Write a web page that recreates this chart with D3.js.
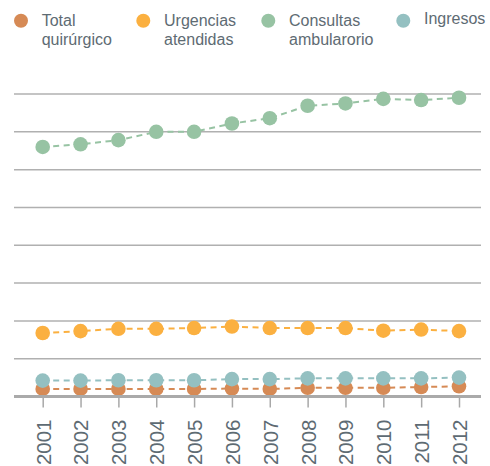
<!DOCTYPE html>
<html><head><meta charset="utf-8">
<script src="https://cdn.jsdelivr.net/npm/d3@7"></script>
<style>body{margin:0;background:#fff;} svg{display:block;}</style>
</head><body>
<svg id="c" width="490" height="466"></svg>
<script>
const years = ["2001","2002","2003","2004","2005","2006","2007","2008","2009","2010","2011","2012"];
const totalQuirurgico = [0.20,0.20,0.20,0.20,0.20,0.21,0.20,0.23,0.23,0.23,0.25,0.27];
const urgencias = [1.68,1.73,1.79,1.79,1.81,1.85,1.81,1.81,1.81,1.74,1.77,1.73];
const consultas = [6.60,6.67,6.78,7.00,7.00,7.22,7.36,7.69,7.75,7.87,7.84,7.90];
const ingresos = [0.42,0.42,0.43,0.43,0.43,0.46,0.46,0.48,0.48,0.48,0.48,0.50];
const gridTicks = [0,1,2,3,4,5,6,7,8];
const seriesNames = [["Total","quirúrgico"],["Urgencias","atendidas"],["Consultas","ambularorio"],["Ingresos"]];
const colors = ["#d68a55","#fbb040","#97c3a3","#94c0c1"];

const svg = d3.select("#c");
const x = d3.scalePoint().domain(years).range([42.7, 459]);
const y = d3.scaleLinear().domain([0, 8]).range([396.5, 94]);
const xL = 14, xR = 481;

// gridlines
svg.append("g").selectAll("line").data(gridTicks.filter(d=>d>0)).join("line")
  .attr("x1", xL).attr("x2", xR).attr("y1", d=>y(d)).attr("y2", d=>y(d))
  .attr("stroke", "#b0b0b0").attr("stroke-width", 1.5);

// x axis
const xa = svg.append("g").attr("transform", `translate(0,${y(0)})`)
  .call(d3.axisBottom(x).tickSize(11).tickSizeOuter(0));
xa.select(".domain").remove();
xa.selectAll(".tick line").attr("stroke", "#a8a8a8").attr("stroke-width", 1.5);
xa.selectAll(".tick text")
  .attr("transform", "rotate(-90)")
  .attr("text-anchor", "end")
  .attr("x", -23).attr("y", 0).attr("dy", "0.36em")
  .attr("fill", "#5e6b73")
  .style("font-family", "'Liberation Sans', Arial, sans-serif")
  .style("font-size", "20.5px");

// series (Total first so Ingresos is on top)
const series = [
  {vals: totalQuirurgico, c: colors[0]},
  {vals: urgencias, c: colors[1]},
  {vals: consultas, c: colors[2]},
  {vals: ingresos, c: colors[3]}
];
const line = d3.line().x((d,i)=>x(years[i])).y(d=>y(d));
series.forEach(s => {
  const g = svg.append("g");
  g.append("path").datum(s.vals).attr("d", line).attr("fill","none")
    .attr("stroke", s.c).attr("stroke-width", 2).attr("stroke-dasharray", "6,4.5");
  g.selectAll("circle").data(s.vals).join("circle")
    .attr("cx",(d,i)=>x(years[i])).attr("cy", d=>y(d)).attr("r", 7.3).attr("fill", s.c);
});

// baseline
svg.append("line").attr("x1", xL).attr("x2", xR).attr("y1", y(0)).attr("y2", y(0))
  .attr("stroke", "#aaaaaa").attr("stroke-width", 3);

// legend
const legX = [21, 143.3, 268.3, 403.3];
const leg = svg.append("g").style("font-family", "'Liberation Sans', Arial, sans-serif")
  .style("font-size", "16px").attr("fill", "#5e6b73");
seriesNames.forEach((n, i) => {
  leg.append("circle").attr("cx", legX[i]).attr("cy", 20.7).attr("r", 7).attr("fill", colors[i]);
  const t = leg.append("text").attr("x", legX[i] + 20.7).attr("y", n.length > 1 ? 26 : 24);
  n.forEach((w, j) => t.append("tspan").attr("x", legX[i] + 20.7).attr("dy", j ? 19 : 0).text(w));
});
</script>
</body></html>
